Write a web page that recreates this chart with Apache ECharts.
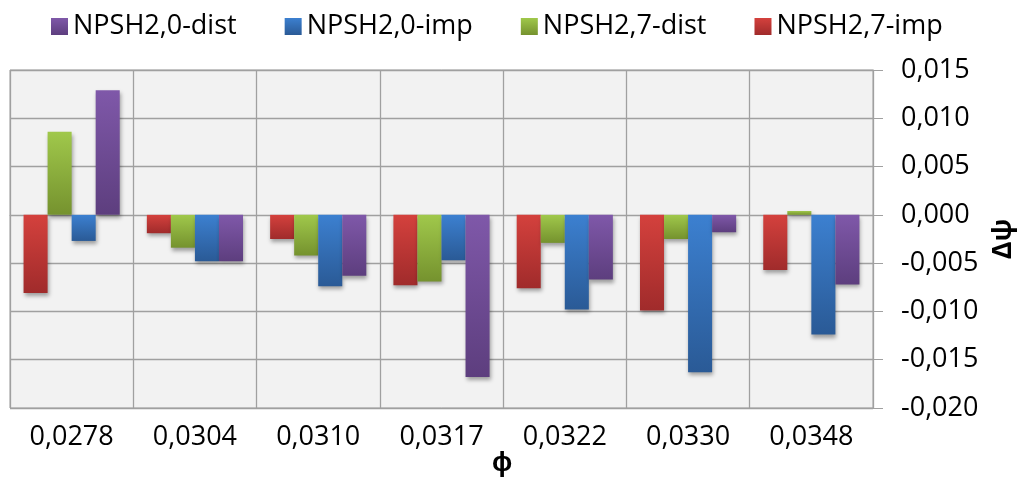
<!DOCTYPE html>
<html>
<head>
<meta charset="utf-8">
<script src="https://cdn.jsdelivr.net/npm/echarts@6/dist/echarts.min.js"></script>
<style>
  html, body { margin: 0; padding: 0; background: #fff; }
  #chart { width: 1026px; height: 481px; }
</style>
</head>
<body>
<div id="chart"></div>
<script>
  // phi values on the x axis
  const categories = ['0,0278', '0,0304', '0,0310', '0,0317', '0,0322', '0,0330', '0,0348'];

  // delta psi
  const npsh27Imp = [-0.0081, -0.0019, -0.0025, -0.0073, -0.0076, -0.0099, -0.0057];
  const npsh27Dist = [0.0086, -0.0034, -0.0042, -0.0069, -0.0029, -0.0025, 0.0004];
  const npsh20Imp = [-0.0027, -0.0048, -0.0074, -0.0047, -0.0098, -0.0163, -0.0124];
  const npsh20Dist = [0.0129, -0.0048, -0.0063, -0.0168, -0.0067, -0.0018, -0.0072];

  const font = '"Open Sans", "Liberation Sans", sans-serif';

  function grad(top, bottom) {
    return new echarts.graphic.LinearGradient(0, 0, 0, 1, [
      { offset: 0, color: top },
      { offset: 1, color: bottom }
    ]);
  }

  function barSeries(name, data, top, bottom) {
    return {
      type: 'bar',
      name: name,
      data: data,
      barGap: 0,
      barCategoryGap: '22%',
      itemStyle: {
        color: grad(top, bottom),
        shadowBlur: 4,
        shadowOffsetX: 1,
        shadowOffsetY: 3,
        shadowColor: 'rgba(0,0,0,0.35)'
      }
    };
  }

  const chart = echarts.init(document.getElementById('chart'));

  const option = {
    animation: false,
    title: {
      text: 'ϕ',
      left: 487,
      top: 445,
      textStyle: { fontFamily: font, fontSize: 27, fontWeight: 'bold', color: '#000' }
    },
    legend: {
      left: 46,
      top: 8,
      itemWidth: 17,
      itemHeight: 17,
      itemGap: 48,
      icon: 'rect',
      data: ['NPSH2,0-dist', 'NPSH2,0-imp', 'NPSH2,7-dist', 'NPSH2,7-imp'],
      textStyle: { fontFamily: font, fontSize: 27, color: '#000' }
    },
    grid: {
      left: 10,
      right: 153,
      top: 70,
      bottom: 73,
      show: true,
      backgroundColor: '#f2f2f2',
      borderColor: '#a0a0a0',
      borderWidth: 1
    },
    xAxis: {
      type: 'category',
      data: categories,
      axisLine: { show: true, lineStyle: { color: '#a0a0a0' } },
      axisTick: { show: false },
      splitLine: { show: true, lineStyle: { color: '#a0a0a0', width: 1.3 } },
      axisLabel: { fontFamily: font, fontSize: 27, color: '#000', margin: 16 }
    },
    yAxis: {
      type: 'value',
      position: 'right',
      min: -0.02,
      max: 0.015,
      interval: 0.005,
      name: 'Δψ',
      nameLocation: 'middle',
      nameRotate: 90,
      nameGap: 116,
      nameTextStyle: { fontFamily: font, fontSize: 27, fontWeight: 'bold', color: '#000' },
      axisLine: { show: true, lineStyle: { color: '#a0a0a0' } },
      axisTick: { show: true, length: 10, inside: false, lineStyle: { color: '#a0a0a0' } },
      splitLine: { show: true, lineStyle: { color: '#a0a0a0', width: 1.3 } },
      axisLabel: {
        fontFamily: font,
        fontSize: 27,
        color: '#000',
        margin: 28,
        formatter: v => {
          const r = Math.round(v * 1000) / 1000;
          return (r === 0 ? 0 : r).toFixed(3).replace('.', ',');
        }
      }
    },
    series: [
      barSeries('NPSH2,7-imp', npsh27Imp, '#d4413d', '#a02b2b'),
      barSeries('NPSH2,7-dist', npsh27Dist, '#a0c84b', '#75922e'),
      barSeries('NPSH2,0-imp', npsh20Imp, '#3c80d0', '#2a5a96'),
      barSeries('NPSH2,0-dist', npsh20Dist, '#7f58a9', '#5d3e7e')
    ]
  };

  chart.setOption(option);
</script>
</body>
</html>
